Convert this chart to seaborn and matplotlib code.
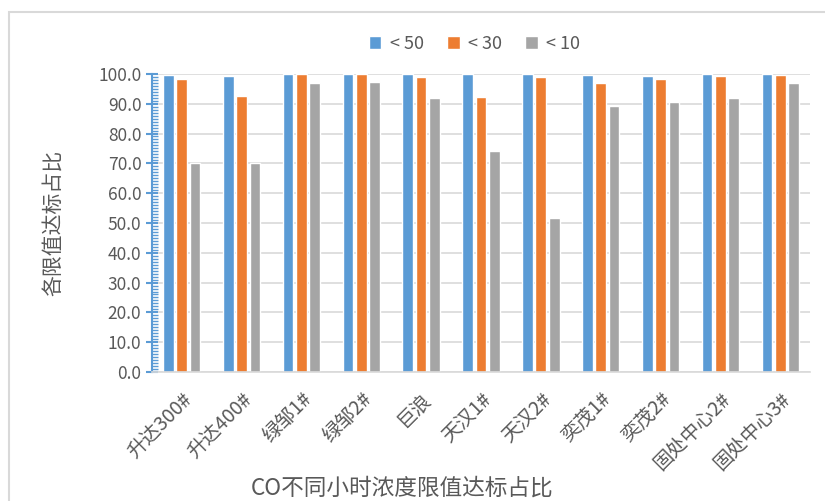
import pandas as pd
import seaborn as sns
import matplotlib.pyplot as plt
from matplotlib.patches import Rectangle
from matplotlib.ticker import MultipleLocator

# 数据
站点 = ["升达300#", "升达400#", "绿邹1#", "绿邹2#", "巨浪", "天汉1#", "天汉2#",
      "奕茂1#", "奕茂2#", "固处中心2#", "固处中心3#"]
限值 = ["< 50", "< 30", "< 10"]
lt50 = [99.7, 99.3, 100.0, 100.0, 100.0, 100.0, 100.0, 99.7, 99.3, 100.0, 100.0]
lt30 = [98.2, 92.7, 100.0, 100.0, 99.0, 92.3, 99.0, 97.1, 98.2, 99.3, 99.7]
lt10 = [70.2, 70.2, 97.1, 97.4, 91.8, 74.1, 51.7, 89.3, 90.7, 91.8, 97.1]
颜色 = ["#5B9BD5", "#ED7D31", "#A5A5A5"]

df = pd.DataFrame({
    "站点": 站点 * 3,
    "限值": [限值[0]] * 11 + [限值[1]] * 11 + [限值[2]] * 11,
    "占比": lt50 + lt30 + lt10,
})

sns.set_style("white")
plt.rcParams['font.family'] = ['Noto Sans CJK SC', 'DejaVu Sans']

fig = plt.figure(figsize=(8.25, 5.01), dpi=100)
ax = fig.add_axes([0.184, 0.2575, 0.798, 0.595])

sns.barplot(data=df, x="站点", y="占比", hue="限值", palette=颜色,
            width=0.67, gap=0.2, saturation=1, ax=ax)

ax.set_ylim(0, 100)
ax.set_xlim(-0.5, 10.5)
ax.yaxis.set_major_locator(MultipleLocator(10))
ax.yaxis.set_minor_locator(MultipleLocator(1))
ax.set_yticklabels([f"{v:.1f}" for v in ax.get_yticks()])
ax.grid(axis="y", color="#d9d9d9", linewidth=1.2)
ax.set_axisbelow(True)

for s in ["top", "right"]:
    ax.spines[s].set_visible(False)
ax.spines["left"].set_color("#5B9BD5")
ax.spines["left"].set_linewidth(1.5)
ax.spines["bottom"].set_color("#d9d9d9")
ax.spines["bottom"].set_linewidth(1.2)

ax.tick_params(axis="y", which="major", direction="inout", length=8, width=1.5,
               color="#5B9BD5", labelsize=12.5, labelcolor="#595959", left=True)
ax.tick_params(axis="y", which="minor", direction="in", length=4, width=1,
               color="#5B9BD5", left=True)
ax.tick_params(axis="x", length=0, labelsize=14, labelcolor="#595959", pad=12)
plt.setp(ax.get_xticklabels(), rotation=45, ha="right", rotation_mode="anchor")

ax.set_xlabel("")
ax.set_ylabel("各限值达标占比", fontsize=15, color="#595959", labelpad=24)
fig.text(0.487, 0.025, "CO不同小时浓度限值达标占比", fontsize=16.3, color="#595959",
         ha="center", va="center")

h, l = ax.get_legend_handles_labels()
ax.get_legend().remove()
fig.legend(h, l, loc="center", bbox_to_anchor=(0.575, 0.912), ncol=3,
           frameon=False, fontsize=13, handlelength=0.7, handleheight=0.7,
           handletextpad=0.45, columnspacing=1.3, labelcolor="#595959")

# 外框
fig.patches.append(Rectangle((9 / 825, -0.1), 1.2, 0.976 + 0.1,
                             transform=fig.transFigure, fill=False,
                             edgecolor="#d9d9d9", linewidth=1.5))

fig.savefig("out.png", dpi=100)
